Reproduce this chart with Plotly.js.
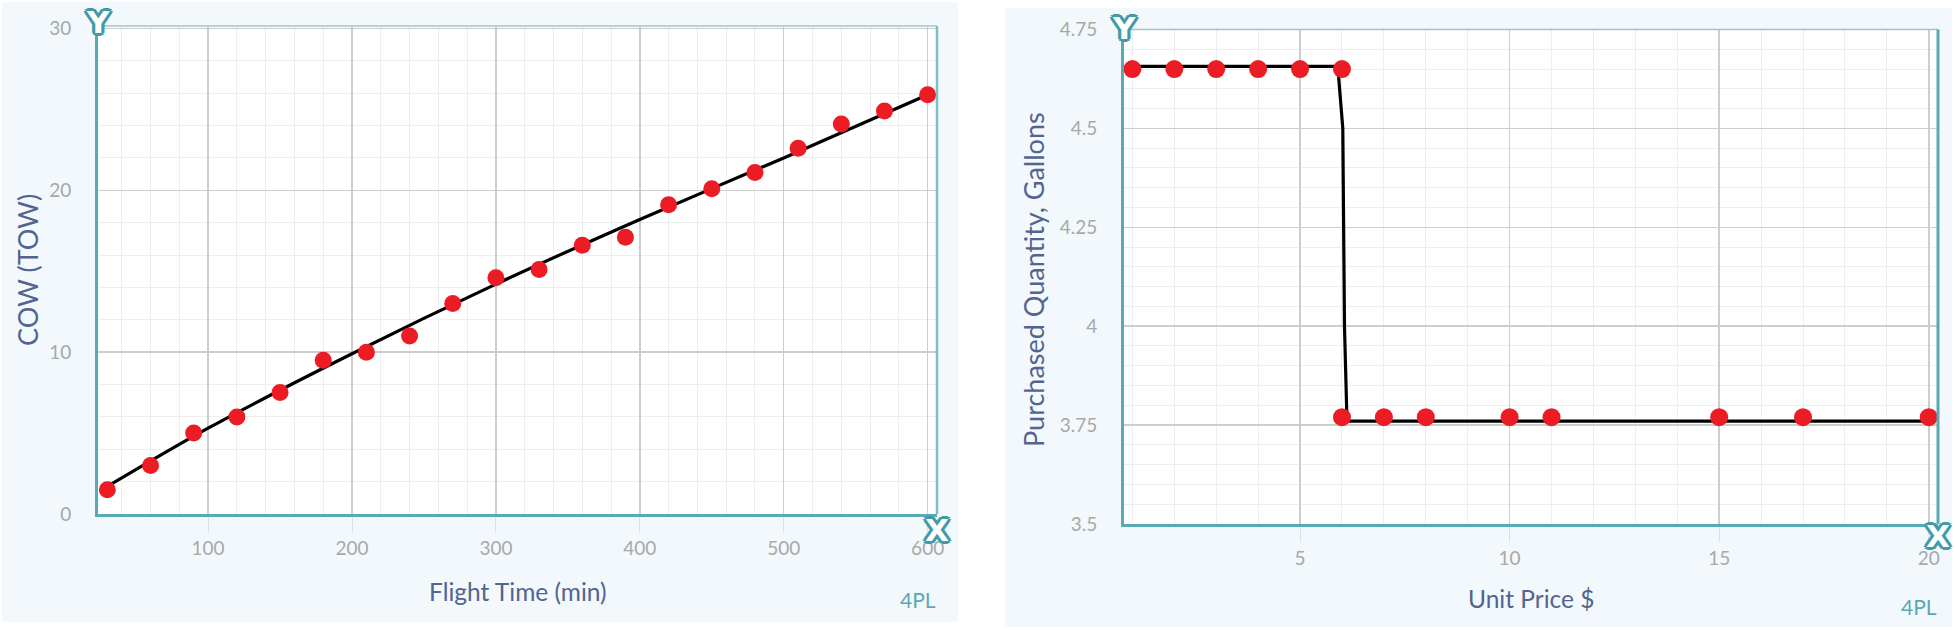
<!DOCTYPE html>
<html>
<head>
<meta charset="utf-8">
<script src="https://cdn.plot.ly/plotly-3.0.1.min.js"></script>
<style>html,body{margin:0;padding:0;background:#fff;}#chart{width:1955px;height:630px;}</style>
</head>
<body>
<div id="chart"></div>
<script>
// ---- Left chart data ----
const flightTime = [30, 60, 90, 120, 150, 180, 210, 240, 270, 300, 330, 360, 390, 420, 450, 480, 510, 540, 570, 600];
const cow = [1.5, 3.0, 5.0, 6.0, 7.5, 9.5, 10.0, 11.0, 13.0, 14.6, 15.1, 16.6, 17.1, 19.1, 20.1, 21.1, 22.6, 24.1, 24.9, 25.9];
const fitTime = [30, 100, 200, 300, 400, 500, 600];
const fitCow = [1.7, 5.3, 9.9, 14.2, 18.2, 22.0, 25.9];
const xTicks1 = [100, 200, 300, 400, 500, 600];
const yTicks1 = [0, 10, 20, 30];

// ---- Right chart data ----
const unitPrice = [1, 2, 3, 4, 5, 6, 6, 7, 8, 10, 11, 15, 17, 20];
const quantity = [4.65, 4.65, 4.65, 4.65, 4.65, 4.65, 3.77, 3.77, 3.77, 3.77, 3.77, 3.77, 3.77, 3.77];
const fitPrice = [1, 5.9, 6.02, 6.06, 6.12, 20];
const fitQty = [4.657, 4.657, 4.5, 4.0, 3.76, 3.76];
const xTicks2 = [5, 10, 15, 20];
const yTicks2 = [3.5, 3.75, 4, 4.25, 4.5, 4.75];

const W = 1955, H = 630;
const TEAL = '#58aab5';
const ICON = '#3f9ba7';
const FONT = 'Lato, "Open Sans", sans-serif';
const TITLE_COLOR = '#52648f';
const TICK_COLOR = '#a8a8a8';
const RED = '#ec1c24';

const xr1 = [23.5, 606.5], yr1 = [0, 30.15];
const xr2 = [0.8, 20.22], yr2 = [3.5, 4.75];

const traces = [
  {x: fitTime, y: fitCow, mode: 'lines', line: {color: '#000', width: 3.2, shape: 'spline', smoothing: 0.8}, xaxis: 'x', yaxis: 'y', hoverinfo: 'skip', cliponaxis: false},
  {x: flightTime, y: cow, mode: 'markers', marker: {color: RED, size: 17}, xaxis: 'x', yaxis: 'y', cliponaxis: false},
  {x: fitPrice, y: fitQty, mode: 'lines', line: {color: '#000', width: 3.2}, xaxis: 'x2', yaxis: 'y2', hoverinfo: 'skip', cliponaxis: false},
  {x: unitPrice, y: quantity, mode: 'markers', marker: {color: RED, size: 18}, xaxis: 'x2', yaxis: 'y2', cliponaxis: false}
];

function xAxis(domain, range, ticks, minorDt, anchor) {
  return {
    domain: domain, range: range, anchor: anchor,
    tickmode: 'array', tickvals: ticks,
    showline: true, linecolor: TEAL, linewidth: 3,
    showgrid: true, gridcolor: '#cdcdcd', gridwidth: 1.5,
    zeroline: false,
    ticks: 'outside', ticklen: 15, tickcolor: '#d2e4f1', tickwidth: 1,
    tickfont: {family: FONT, size: 19, color: TICK_COLOR},
    minor: {dtick: minorDt, tick0: 0, showgrid: true, gridcolor: '#eceef0', gridwidth: 1}
  };
}
function yAxis(domain, range, ticks, minorDt, anchor) {
  return {
    domain: domain, range: range, anchor: anchor,
    tickmode: 'array', tickvals: ticks,
    showline: true, linecolor: TEAL, linewidth: 3,
    showgrid: true, gridcolor: '#cdcdcd', gridwidth: 1.5,
    zeroline: false,
    ticks: 'outside', ticklen: 20, tickcolor: 'rgba(0,0,0,0)',
    tickfont: {family: FONT, size: 19, color: TICK_COLOR},
    minor: {dtick: minorDt, tick0: 0, showgrid: true, gridcolor: '#eceef0', gridwidth: 1}
  };
}

const xd1 = [98 / W, 937 / W], yd1 = [1 - 514 / H, 1 - 26 / H];
const xd2 = [1124 / W, 1938 / W], yd2 = [1 - 524 / H, 1 - 29.5 / H];

const shapes = [
  {type: 'rect', xref: 'paper', yref: 'paper', x0: 2 / W, x1: 958 / W, y0: 1 - 622 / H, y1: 1 - 2 / H, fillcolor: '#f2f8fc', line: {width: 0}, layer: 'below'},
  {type: 'rect', xref: 'paper', yref: 'paper', x0: 1005 / W, x1: 1952 / W, y0: 1 - 627 / H, y1: 1 - 8 / H, fillcolor: '#f2f8fc', line: {width: 0}, layer: 'below'},
  {type: 'rect', xref: 'x domain', yref: 'y domain', x0: 0, x1: 1, y0: 0, y1: 1, fillcolor: '#ffffff', line: {width: 0}, layer: 'below'},
  {type: 'rect', xref: 'x2 domain', yref: 'y2 domain', x0: 0, x1: 1, y0: 0, y1: 1, fillcolor: '#ffffff', line: {width: 0}, layer: 'below'},
  // top borders
  {type: 'line', xref: 'x domain', yref: 'y domain', x0: 0, x1: 1, y0: 1, y1: 1, line: {color: '#a6c3c8', width: 1.5}},
  {type: 'line', xref: 'x2 domain', yref: 'y2 domain', x0: 0, x1: 1, y0: 1, y1: 1, line: {color: '#a6c3c8', width: 1.5}},
  // right borders
  {type: 'line', xref: 'x domain', yref: 'y domain', x0: 1, x1: 1, y0: 0, y1: 1, line: {color: '#7cbfc8', width: 2.5}},
  {type: 'line', xref: 'x2 domain', yref: 'y2 domain', x0: 1, x1: 1, y0: 0, y1: 1, line: {color: TEAL, width: 3}}
];

const outline = [];
const s = 3.2;
[[s,0],[-s,0],[0,s],[0,-s],[2.3,2.3],[-2.3,-2.3],[2.3,-2.3],[-2.3,2.3],[1.6,0],[-1.6,0],[0,1.6],[0,-1.6]].forEach(p => outline.push(ICON + ' ' + p[0] + 'px ' + p[1] + 'px 0px'));
const iconFont = {family: '"DejaVu Sans", sans-serif', size: 31, color: '#ffffff', weight: 700, shadow: outline.join(', ')};

const annotations = [
  {text: 'COW (TOW)', xref: 'paper', yref: 'paper', x: 27 / W, y: 1 - 270 / H, textangle: -90, showarrow: false, xanchor: 'center', yanchor: 'middle', font: {family: FONT, size: 27, color: TITLE_COLOR}},
  {text: 'Flight Time (min)', xref: 'x domain', yref: 'paper', x: 0.5, y: 1 - 591 / H, showarrow: false, xanchor: 'center', yanchor: 'middle', font: {family: FONT, size: 24.5, color: TITLE_COLOR}},
  {text: '4PL', xref: 'paper', yref: 'paper', x: 938 / W, y: 1 - 599 / H, showarrow: false, xanchor: 'right', yanchor: 'middle', font: {family: FONT, size: 21, color: '#5aa9b6'}},
  {text: 'Purchased Quantity, Gallons', xref: 'paper', yref: 'paper', x: 1033 / W, y: 1 - 280 / H, textangle: -90, showarrow: false, xanchor: 'center', yanchor: 'middle', font: {family: FONT, size: 27, color: TITLE_COLOR}},
  {text: 'Unit Price $', xref: 'x2 domain', yref: 'paper', x: 0.5, y: 1 - 598 / H, showarrow: false, xanchor: 'center', yanchor: 'middle', font: {family: FONT, size: 24.5, color: TITLE_COLOR}},
  {text: '4PL', xref: 'paper', yref: 'paper', x: 1939 / W, y: 1 - 606 / H, showarrow: false, xanchor: 'right', yanchor: 'middle', font: {family: FONT, size: 21, color: '#5aa9b6'}},
  // axis icons
  {text: 'Y', xref: 'x domain', yref: 'y domain', x: 0, y: 1, yshift: 4, showarrow: false, xanchor: 'center', yanchor: 'middle', font: iconFont},
  {text: 'X', xref: 'x domain', yref: 'y domain', x: 1, y: 0, yshift: -16, showarrow: false, xanchor: 'center', yanchor: 'middle', font: iconFont},
  {text: 'Y', xref: 'x2 domain', yref: 'y2 domain', x: 0, y: 1, yshift: 2, showarrow: false, xanchor: 'center', yanchor: 'middle', font: iconFont},
  {text: 'X', xref: 'x2 domain', yref: 'y2 domain', x: 1, y: 0, yshift: -12, showarrow: false, xanchor: 'center', yanchor: 'middle', font: iconFont}
];

const layout = {
  width: W, height: H,
  margin: {l: 0, r: 0, t: 0, b: 0},
  paper_bgcolor: '#ffffff', plot_bgcolor: '#ffffff',
  showlegend: false,
  xaxis: xAxis(xd1, xr1, xTicks1, 20, 'y'),
  yaxis: yAxis(yd1, yr1, yTicks1, 2, 'x'),
  xaxis2: xAxis(xd2, xr2, xTicks2, 1, 'y2'),
  yaxis2: yAxis(yd2, yr2, yTicks2, 0.05, 'x2'),
  shapes: shapes,
  annotations: annotations
};

Plotly.newPlot('chart', traces, layout, {staticPlot: true, displayModeBar: false});
</script>
</body>
</html>
